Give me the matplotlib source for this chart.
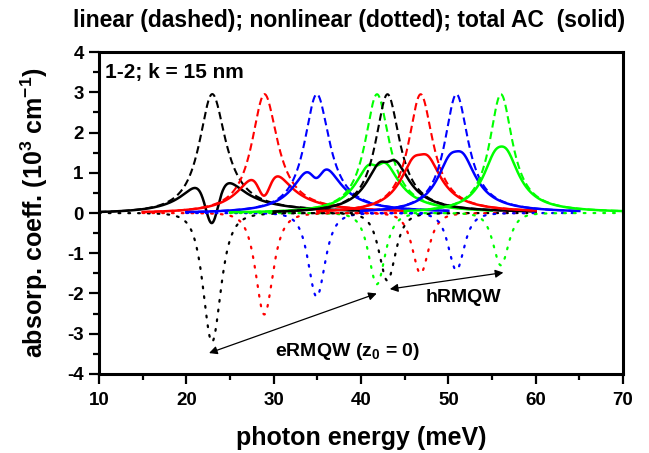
import numpy as np
import matplotlib
matplotlib.use("Agg")
import matplotlib.pyplot as plt
from matplotlib.ticker import MultipleLocator

plt.rcParams['font.family'] = ['Liberation Sans', 'DejaVu Sans']
plt.rcParams['font.weight'] = 'bold'
plt.rcParams['mathtext.fontset'] = 'custom'
plt.rcParams['mathtext.rm'] = 'Liberation Sans:bold'
plt.rcParams['mathtext.default'] = 'rm'
plt.rcParams['axes.unicode_minus'] = False

colors = ['black', '#ff0000', '#0000ff', '#00ff00']

# electron-like RMQW transitions (z0 = 0)
e_center = [22.9, 28.9, 34.9, 41.8]      # meV
e_linear_peak = [2.95, 2.95, 2.95, 2.95]  # 10^3 cm^-1
e_nonlinear_depth = [3.2, 2.52, 2.08, 1.77]
e_width = [1.85, 1.8, 1.75, 1.7]
e_range = [(10, 40), (15, 45), (20, 50), (25, 55)]

# hole-like RMQW transitions
h_center = [43.0, 46.8, 50.9, 56.0]
h_linear_peak = [2.95, 2.95, 2.95, 2.95]
h_nonlinear_depth = [1.68, 1.50, 1.42, 1.30]
h_width = [1.7, 1.7, 1.65, 1.6]
h_range = [(30, 60), (35, 60), (40, 65), (45, 70)]


def absorption(E, E0, A, B, G):
    """Linear and third-order absorption line shapes (hbar*omega weighted)."""
    lor = G**2 / ((E - E0)**2 + G**2)
    lin = A * (E / E0) * lor
    nonlin = -B * (E / E0) * lor**2
    return lin, nonlin, lin + nonlin


fig = plt.figure(figsize=(6.49, 4.53), dpi=100)
ax = fig.add_axes([0.1525, 0.1744, 0.8075, 0.7108])

groups = [
    (e_center, e_linear_peak, e_nonlinear_depth, e_width, e_range),
    (h_center, h_linear_peak, h_nonlinear_depth, h_width, h_range),
]
for centers, peaks, depths, widths, ranges in groups:
    for c, E0, A, B, G, (lo, hi) in zip(colors, centers, peaks, depths, widths, ranges):
        E = np.linspace(lo, hi, 600)
        lin, nonlin, tot = absorption(E, E0, A, B, G)
        ax.plot(E, nonlin, color=c, lw=1.6, linestyle=(0, (0.8, 3.6)),
                dash_capstyle='round')
        ax.plot(E, lin, color=c, lw=1.5, linestyle=(0, (3.6, 2.0)))
        ax.plot(E, tot, color=c, lw=1.8, linestyle='-')

ax.set_xlim(10, 70)
ax.set_ylim(-4, 4)
ax.xaxis.set_major_locator(MultipleLocator(10))
ax.xaxis.set_minor_locator(MultipleLocator(5))
ax.yaxis.set_major_locator(MultipleLocator(1))
ax.yaxis.set_minor_locator(MultipleLocator(0.5))
ax.tick_params(which='both', direction='out', width=1.6, top=False, right=False,
               labelsize=13.5)
ax.tick_params(which='major', length=7, pad=4)
ax.tick_params(axis='x', which='major', pad=6)
ax.tick_params(which='minor', length=4)
for s in ax.spines.values():
    s.set_linewidth(2.2)
for lab in ax.get_xticklabels() + ax.get_yticklabels():
    lab.set_fontweight('bold')

ax.set_xlabel('photon energy (meV)', fontsize=18, fontweight='bold', labelpad=12)
ax.set_ylabel(r'absorp. coeff. (10$^{3}$ cm$^{-1}$)', fontsize=18,
              fontweight='bold', labelpad=12)

fig.text(0.538, 0.955, 'linear (dashed); nonlinear (dotted); total AC  (solid)',
         ha='center', va='center', fontsize=16.5, fontweight='bold')

ax.text(10.7, 3.5, '1-2; k = 15 nm', ha='left', va='center', fontsize=15,
        fontweight='bold')

ax.text(51.7, -2.09, 'hRMQW', ha='center', va='center', fontsize=14,
        fontweight='bold')
ax.text(38.5, -3.45, r'eRMQW (z$_0$ = 0)', ha='center', va='center',
        fontsize=14, fontweight='bold')

arrow = dict(arrowstyle='<|-|>', color='black', lw=0.9, mutation_scale=12,
             shrinkA=0, shrinkB=0)
ax.annotate('', xy=(22.6, -3.48), xytext=(41.8, -2.0), arrowprops=arrow)
ax.annotate('', xy=(43.3, -1.89), xytext=(56.3, -1.48), arrowprops=arrow)

fig.savefig('out.png', dpi=100)
